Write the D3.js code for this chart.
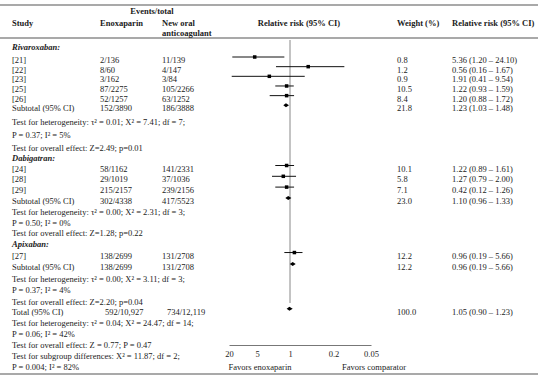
<!DOCTYPE html>
<html>
<head>
<meta charset="utf-8">
<script src="https://cdn.jsdelivr.net/npm/d3@7"></script>
<style>
  body { margin: 0; background: #fff; }
  svg text { font-family: "Liberation Serif", "DejaVu Serif", serif; font-size: 8.5px; fill: #1b1b1b; }
  .bold { font-weight: bold; }
  .grp { font-weight: bold; font-style: italic; }
</style>
</head>
<body>
<svg id="chart" width="550" height="380"></svg>
<script>
// Drug groups
var groups = ["Rivaroxaban:", "Dabigatran:", "Apixaban:"];

// One entry per study
var studies = ["[21]", "[22]", "[23]", "[25]", "[26]", "[24]", "[28]", "[29]", "[27]"];
var studyGroup = [0, 0, 0, 0, 0, 1, 1, 1, 2];
var enoxEvents = ["2/136", "8/60", "3/162", "87/2275", "52/1257", "58/1162", "29/1019", "215/2157", "138/2699"];
var noacEvents = ["11/139", "4/147", "3/84", "105/2266", "63/1252", "141/2331", "37/1036", "239/2156", "131/2708"];
var weights = ["0.8", "1.2", "0.9", "10.5", "8.4", "10.1", "5.8", "7.1", "12.2"];
var rrLabels = ["5.36 (1.20 – 24.10)", "0.56 (0.16 – 1.67)", "1.91 (0.41 – 9.54)", "1.22 (0.93 – 1.59)",
  "1.20 (0.88 – 1.72)", "1.22 (0.89 – 1.61)", "1.27 (0.79 – 2.00)", "0.42 (0.12 – 1.26)", "0.96 (0.19 – 5.66)"];
// estimate and interval as drawn in the plot (read off the marks)
var rr = [5.66, 0.51, 2.76, 1.18, 1.18, 1.18, 1.39, 1.18, 0.85];
var lo = [1.32, 0.134, 0.58, 0.87, 0.86, 0.86, 0.80, 0.86, 0.63];
var hi = [17.0, 1.99, 17.5, 2.06, 2.71, 2.06, 2.42, 2.06, 1.32];

// Subtotals per group
var subEnox = ["152/3890", "302/4338", "138/2699"];
var subNoac = ["186/3888", "417/5523", "131/2708"];
var subWeight = ["21.8", "23.0", "12.2"];
var subLabels = ["1.23 (1.03 – 1.48)", "1.10 (0.96 – 1.33)", "0.96 (0.19 – 5.66)"];
var subRr = [1.22, 1.09, 0.905];
var subLo = [1.05, 0.95, 0.81];
var subHi = [1.39, 1.26, 1.01];

// Overall total
var totalEnox = "592/10,927";
var totalNoac = "734/12,119";
var totalWeight = "100.0";
var totalLabel = "1.05 (0.90 – 1.23)";
var totalRr = 1.03, totalLo = 0.905, totalHi = 1.18;

// Test lines (3 groups, then overall)
var hetTests = [
  "Test for heterogeneity: τ² = 0.01; X² = 7.41; df = 7;",
  "Test for heterogeneity: τ² = 0.00; X² = 2.31; df = 3;",
  "Test for heterogeneity: τ² = 0.00; X² = 3.11; df = 3;",
  "Test for heterogeneity: τ² = 0.04; X² = 24.47; df = 14;"
];
var hetP = ["P = 0.37; I² = 5%", "P = 0.50; I² = 0%", "P = 0.37; I² = 4%", "P = 0.06; I² = 42%"];
var effectTests = [
  "Test for overall effect: Z=2.49; p=0.01",
  "Test for overall effect: Z=1.28; p=0.22",
  "Test for overall effect: Z=2.20; p=0.04",
  "Test for overall effect: Z = 0.77; P = 0.47"
];
var subgroupTest = ["Test for subgroup differences: X² = 11.87; df = 2;", "P = 0.004; I² = 82%"];

// Axis
var tickValues = [20, 5, 1, 0.2, 0.05];
var tickLabels = ["20", "5", "1", "0.2", "0.05"];

// build the list of rows in table order
var rows = [];
groups.forEach(function(g, gi) {
  rows.push({ type: "group", text: g });
  studies.forEach(function(s, i) {
    if (studyGroup[i] === gi) rows.push({ type: "study", i: i });
  });
  rows.push({ type: "sub", gi: gi });
  rows.push({ type: "note", text: hetTests[gi] });
  rows.push({ type: "note", text: hetP[gi] });
  rows.push({ type: "note", text: effectTests[gi] });
});
rows.push({ type: "total" });
rows.push({ type: "note", text: hetTests[3] });
rows.push({ type: "note", text: hetP[3] });
rows.push({ type: "note", text: effectTests[3] });
rows.push({ type: "note", text: subgroupTest[0] });
rows.push({ type: "note", text: subgroupTest[1] });

// rows are not evenly spaced in the table, so pin a few of them
var y = d3.scaleLinear()
  .domain([0, 1, 6, 9, 10, 17, 18, 23, 24, 29])
  .range([46.7, 60, 108.3, 148.3, 157.7, 233.3, 244, 301.7, 311.7, 366.7]);

// reversed log scale: favours enoxaparin on the left
var x = d3.scaleLog()
  .domain([20, 1, 0.05])
  .range([229, 290, 371]);

var col = { study: 12, enox: 100, noac: 162, weight: 397, rr: 452 };
var markShift = -3;

var svg = d3.select("#chart");

// table rules
[5, 38, 374].forEach(function(ry) {
  svg.append("line")
    .attr("x1", 0).attr("x2", 538)
    .attr("y1", ry).attr("y2", ry)
    .attr("stroke", "#555")
    .attr("stroke-width", 1.2);
});

// header
var header = svg.append("g").attr("class", "bold");
header.append("text").attr("x", 152).attr("y", 14).attr("text-anchor", "middle").text("Events/total");
header.append("text").attr("x", col.study).attr("y", 26).text("Study");
header.append("text").attr("x", col.enox).attr("y", 26).text("Enoxaparin");
header.append("text").attr("x", col.noac).attr("y", 26).text("New oral");
header.append("text").attr("x", col.noac).attr("y", 36).text("anticoagulant");
header.append("text").attr("x", x(1) + 9).attr("y", 26).attr("text-anchor", "middle").text("Relative risk (95% CI)");
header.append("text").attr("x", col.weight).attr("y", 26).text("Weight (%)");
header.append("text").attr("x", col.rr).attr("y", 26).text("Relative risk (95% CI)");

// null line
svg.append("line")
  .attr("x1", x(1)).attr("x2", x(1))
  .attr("y1", 40).attr("y2", 303)
  .attr("stroke", "#888")
  .attr("stroke-width", 1);

function addText(cls, tx, ty, str) {
  svg.append("text").attr("class", cls).attr("x", tx).attr("y", ty + 3).text(str);
}

function diamond(cx, cy, l, r) {
  var h = 2;
  return "M" + l + "," + cy + "L" + cx + "," + (cy - h) + "L" + r + "," + cy + "L" + cx + "," + (cy + h) + "Z";
}

rows.forEach(function(row, k) {
  var ry = y(k);
  var my = ry + markShift;
  if (row.type === "group") {
    addText("grp", col.study, ry, row.text);
  } else if (row.type === "note") {
    addText("", col.study, ry, row.text);
  } else if (row.type === "study") {
    var i = row.i;
    addText("", col.study, ry, studies[i]);
    addText("", col.enox, ry, enoxEvents[i]);
    addText("", col.noac, ry, noacEvents[i]);
    addText("", col.weight, ry, weights[i]);
    addText("", col.rr, ry, rrLabels[i]);
    svg.append("line")
      .attr("x1", x(hi[i])).attr("x2", x(lo[i]))
      .attr("y1", my).attr("y2", my)
      .attr("stroke", "#111")
      .attr("stroke-width", 1);
    svg.append("rect")
      .attr("x", x(rr[i]) - 1.75).attr("y", my - 1.75)
      .attr("width", 3.5).attr("height", 3.5)
      .attr("fill", "#000");
  } else if (row.type === "sub") {
    var g = row.gi;
    addText("", col.study, ry, "Subtotal (95% CI)");
    addText("", col.enox, ry, subEnox[g]);
    addText("", col.noac, ry, subNoac[g]);
    addText("", col.weight, ry, subWeight[g]);
    addText("", col.rr, ry, subLabels[g]);
    svg.append("path")
      .attr("d", diamond(x(subRr[g]), my, x(subHi[g]), x(subLo[g])))
      .attr("fill", "#000");
  } else if (row.type === "total") {
    addText("", col.study, ry, "Total (95% CI)");
    addText("", col.enox + 5, ry, totalEnox);
    addText("", col.noac + 5, ry, totalNoac);
    addText("", col.weight, ry, totalWeight);
    addText("", col.rr, ry, totalLabel);
    svg.append("path")
      .attr("d", diamond(x(totalRr), my, x(totalHi), x(totalLo)))
      .attr("fill", "#000");
  }
});

// bottom axis
var axis = svg.append("g")
  .attr("transform", "translate(0,345)")
  .call(d3.axisBottom(x)
    .tickValues(tickValues)
    .tickFormat(function(d, i) { return tickLabels[i]; })
    .tickSize(0)
    .tickPadding(6));
axis.select(".domain").attr("stroke", "#777");
axis.selectAll("text")
  .attr("fill", "#1b1b1b")
  .style("font-family", '"Liberation Serif", "DejaVu Serif", serif')
  .style("font-size", "8.5px");

svg.append("text").attr("x", 260).attr("y", 370).attr("text-anchor", "middle").text("Favors enoxaparin");
svg.append("text").attr("x", 342).attr("y", 370).text("Favors comparator");
</script>
</body>
</html>
